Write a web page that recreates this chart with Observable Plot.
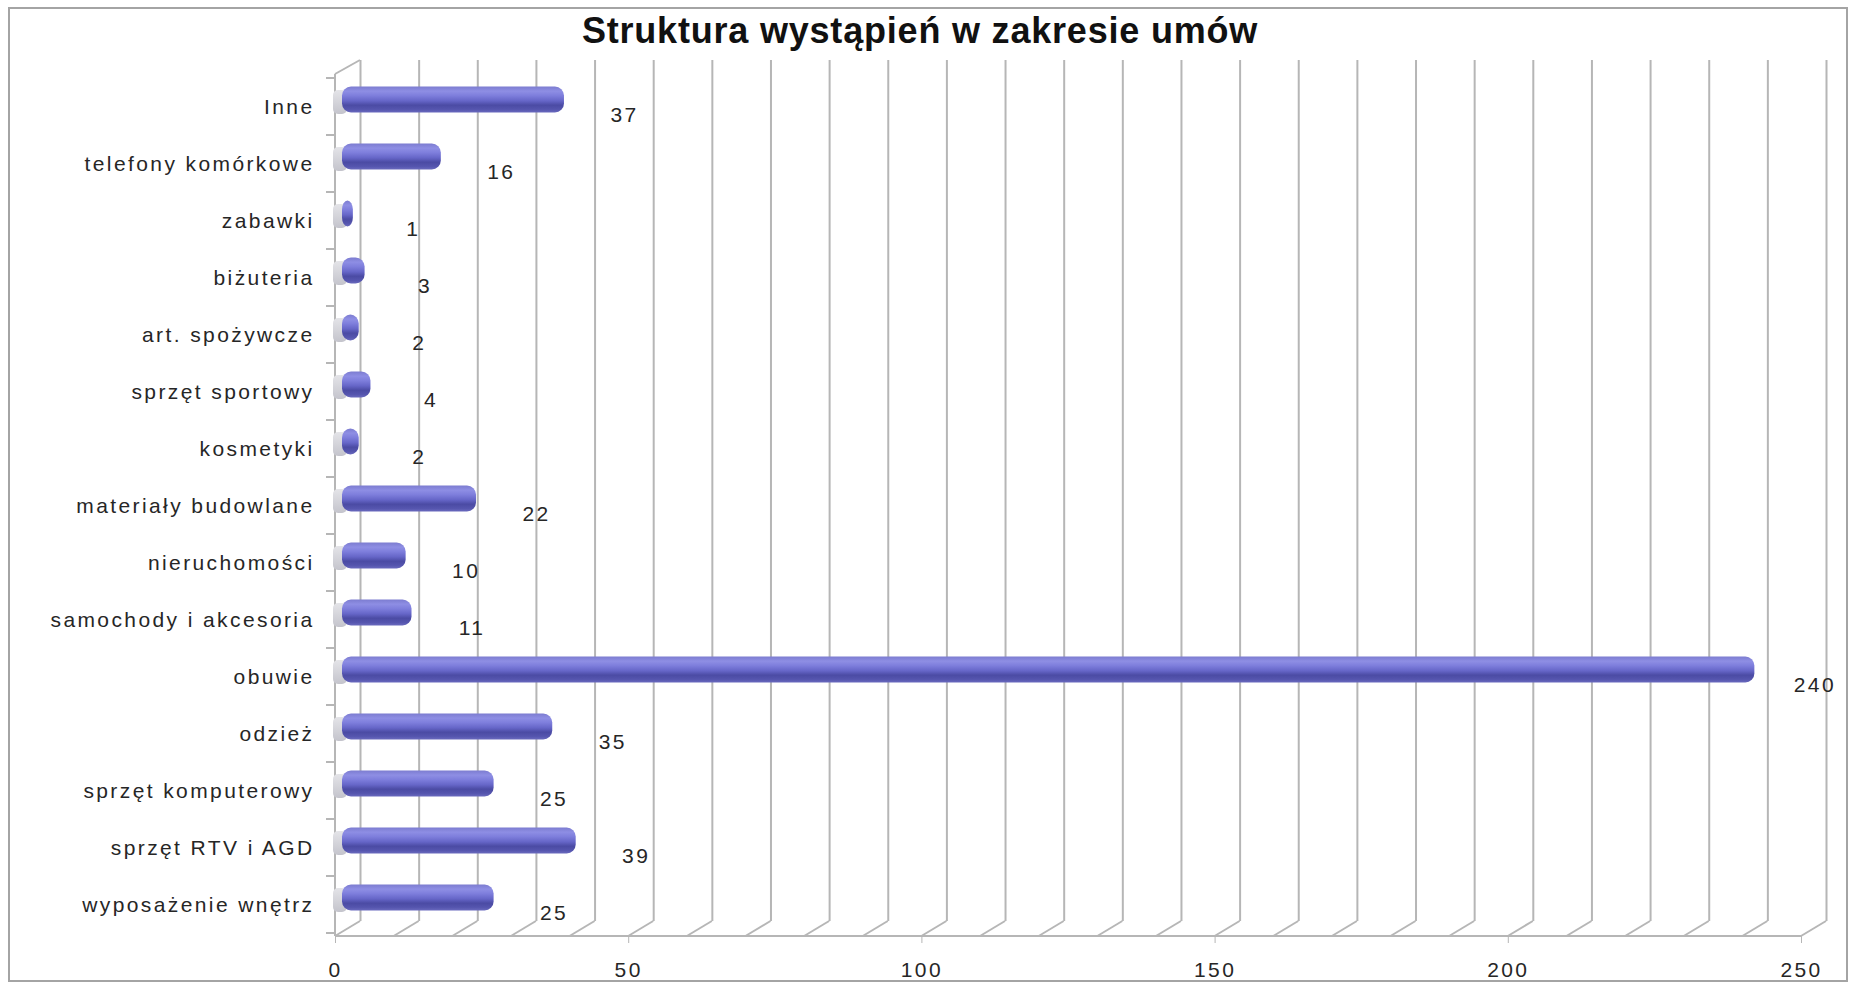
<!DOCTYPE html>
<html>
<head>
<meta charset="utf-8">
<script src="https://cdn.jsdelivr.net/npm/d3@7"></script>
<script src="https://cdn.jsdelivr.net/npm/@observablehq/plot@0.6"></script>
<style>
  html, body { margin: 0; padding: 0; background: #ffffff; }
  #page { position: relative; width: 1852px; height: 986px; overflow: hidden; background: #fff; }
  #border { position: absolute; left: 8px; top: 7px; width: 1840px; height: 975px; border: 2px solid #a4a4a4; box-sizing: border-box; }
  #title { position: absolute; left: 0; top: 13px; width: 1840px; text-align: center; font-family: "Liberation Sans", Arial, sans-serif; font-weight: bold; font-size: 36px; line-height: 36px; letter-spacing: 0.8px; color: #111; }
  #chart { position: absolute; left: 0; top: 50px; }
  #chart svg text { letter-spacing: 2.4px; }
</style>
</head>
<body>
<div id="page">
  <div id="border"></div>
  <div id="title">Struktura wystąpień w zakresie umów</div>
  <div id="chart"></div>
</div>
<script>
const categories = ["Inne", "telefony komórkowe", "zabawki", "biżuteria", "art. spożywcze", "sprzęt sportowy", "kosmetyki", "materiały budowlane", "nieruchomości", "samochody i akcesoria", "obuwie", "odzież", "sprzęt komputerowy", "sprzęt RTV i AGD", "wyposażenie wnętrz"];
const values = [37, 16, 1, 3, 2, 4, 2, 22, 10, 11, 240, 35, 25, 39, 25];
const xTicks = [0, 50, 100, 150, 200, 250];
const gridValues = [0, 10, 20, 30, 40, 50, 60, 70, 80, 90, 100, 110, 120, 130, 140, 150, 160, 170, 180, 190, 200, 210, 220, 230, 240, 250];

const data = categories.map((c, i) => ({category: c, value: values[i]}));

const DEPTH_X = 25, DEPTH_Y = 15, TOP_RISE = 14;
const lineColor = "#b6b6b6";

const defsMark = (index, scales, vals, dims, context) => {
  const defs = context.document.createElementNS("http://www.w3.org/2000/svg", "defs");
  defs.innerHTML = `
    <linearGradient id="barGrad" x1="0" y1="0" x2="0" y2="1">
      <stop offset="0" stop-color="#7c7cd0"/>
      <stop offset="0.18" stop-color="#8e8ee4"/>
      <stop offset="0.35" stop-color="#7e7edc"/>
      <stop offset="0.55" stop-color="#6666c8"/>
      <stop offset="0.72" stop-color="#4b4ba4"/>
      <stop offset="0.88" stop-color="#5555ae"/>
      <stop offset="1" stop-color="#6a6abe"/>
    </linearGradient>
    <linearGradient id="capGrad" x1="0" y1="0" x2="0" y2="1">
      <stop offset="0" stop-color="#e4e4e8"/>
      <stop offset="1" stop-color="#c4c4cc"/>
    </linearGradient>`;
  return defs;
};

const frameMark = (index, scales, vals, dims) => {
  const {x, y} = scales;
  const {height, marginTop, marginBottom} = dims;
  const bottom = height - marginBottom;
  const g = d3.create("svg:g").attr("fill", "none").attr("stroke", lineColor).attr("stroke-width", 2);
  for (const v of gridValues) {
    g.append("line").attr("x1", x(v) + DEPTH_X).attr("y1", bottom - DEPTH_Y).attr("x2", x(v)).attr("y2", bottom);
  }
  g.append("line").attr("x1", x(xTicks[0])).attr("y1", bottom).attr("x2", x(xTicks[xTicks.length - 1])).attr("y2", bottom);
  g.append("line").attr("x1", x(0)).attr("y1", marginTop).attr("x2", x(0)).attr("y2", bottom);
  g.append("line").attr("x1", x(0)).attr("y1", marginTop).attr("x2", x(0) + DEPTH_X).attr("y2", marginTop - TOP_RISE);
  const step = typeof y.step === "function" ? y.step() : y.bandwidth();
  const bounds = categories.map(c => y(c)).concat([y(categories[categories.length - 1]) + step]);
  for (const b of bounds) {
    g.append("line").attr("x1", x(0) - 9).attr("y1", b).attr("x2", x(0)).attr("y2", b);
  }
  return g.node();
};

const chart = Plot.plot({
  width: 1852,
  height: 936,
  marginTop: 24,
  marginBottom: 50,
  marginLeft: 335,
  marginRight: 51,
  style: {fontFamily: "'Liberation Sans', Arial, sans-serif", fontSize: "21px", background: "transparent", color: "#262626", overflow: "visible"},
  x: {domain: [0, 250], label: null},
  y: {domain: categories, padding: 0, label: null},
  marks: [
    defsMark,
    Plot.ruleX(gridValues, {x: d => d, dx: DEPTH_X, insetTop: -TOP_RISE, insetBottom: DEPTH_Y, stroke: lineColor, strokeWidth: 2}),
    frameMark,
    Plot.barX(data, {y: "category", x1: 0, x2: 0, fill: "url(#capGrad)", rx: 5, insetTop: 17, insetBottom: 16, insetLeft: -8, insetRight: -6, dx: 6, dy: -5}),
    Plot.barX(data, {y: "category", x1: 0, x2: "value", fill: "url(#barGrad)", rx: 9, insetTop: 15.5, insetBottom: 15.5, insetLeft: -5, dx: 12, dy: -7}),
    Plot.text(data, {y: "category", x: "value", text: d => String(d.value), dx: 72, dy: 8, textAnchor: "middle", fontSize: 21, fill: "#262626"}),
    Plot.axisX(xTicks, {tickSize: 7, tickPadding: 19, stroke: lineColor, fill: "#262626", fontSize: 21, label: null}),
    Plot.axisY({tickSize: 0, tickPadding: 21, fill: "#262626", fontSize: 21, label: null})
  ]
});
document.getElementById("chart").appendChild(chart);
</script>
</body>
</html>
